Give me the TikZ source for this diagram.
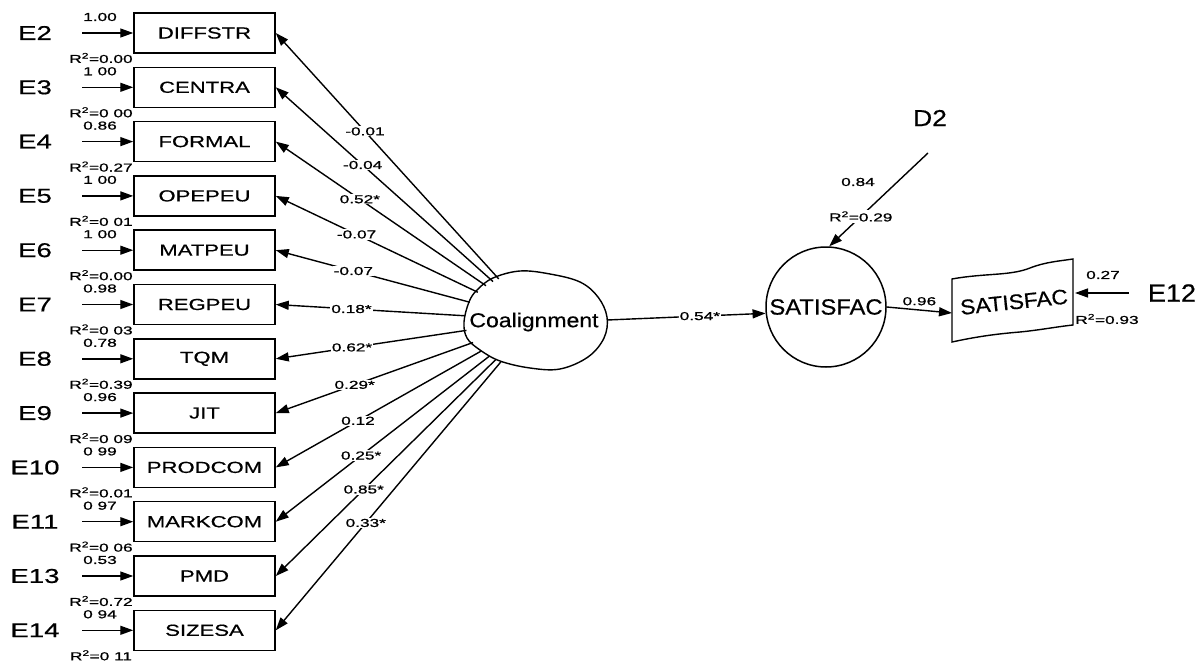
\documentclass[tikz,border=0pt]{standalone}
\usepackage{fontspec}
\setmainfont{Liberation Sans}
\newfontfamily\lfont[FakeStretch=1.38,FakeBold=0.6]{Liberation Sans}
\newfontfamily\nfont[FakeStretch=1.5,FakeBold=1]{Liberation Sans}
\newfontfamily\rfont[FakeStretch=1.08,FakeBold=0.6]{Liberation Sans}
\newfontfamily\cfont[FakeStretch=1.15,FakeBold=0.6]{Liberation Sans}
\usetikzlibrary{arrows.meta,calc,shapes.geometric}
\tikzset{
  obsbox/.style={draw, line width=1.5pt, minimum width=141pt, minimum height=40pt, inner sep=0pt, font=\lfont\fontsize{16}{16}\selectfont},
  elab/.style={inner sep=0pt, font=\lfont\fontsize{20}{20}\selectfont},
  num/.style={inner sep=1pt, font=\nfont\fontsize{11.5}{11.5}\selectfont},
  onl/.style={num, fill=white},
  arr/.style={line width=1.4pt, -{Triangle[length=13pt,width=9pt]}},
  ln/.style={line width=1.4pt}
}
\newcommand{\semrow}[7]{%
  \node[obsbox] (b#1) at (204.5,#2) {#3};
  \node[elab] (e#1) at (35,#2) {#4};
  \draw[arr] ($(e#1.center)+(47,0)$) -- (b#1.west);
  \node[num] (c#1) at (100,#2-16) {#5};
  \node[num] (r#1) at (101,#2+25) {R\textsuperscript{2}=#6};
  \draw[arr] (coal) -- (b#1.east) node[onl,pos=0.6] (p#1) {#7};
}
\begin{document}
\begin{tikzpicture}[x=1pt,y=-1pt]
\useasboundingbox (0,0) rectangle (1203,666);
% Coalignment blob
\node[ellipse, minimum width=142pt, minimum height=96pt, inner sep=0pt] (coal) at (536,320) {};
\node[inner sep=0pt, font=\cfont\fontsize{20}{20}\selectfont] (coaltxt) at (534,322) {Coalignment};
\draw[ln] plot[smooth cycle, tension=0.6] coordinates {(464,322) (469,302) (477,290) (493,278) (520,271) (550,274) (580,282) (598,297) (607,317) (604,338) (588,357) (560,369) (530,368) (500,361) (480,350) (467,338)};
% rows
\semrow{0}{33}{DIFFSTR}{E2}{1.00}{0.00}{-0.01}
\semrow{1}{87.3}{CENTRA}{E3}{1 00}{0 00}{-0.04}
\semrow{2}{141.6}{FORMAL}{E4}{0.86}{0.27}{0.52*}
\semrow{3}{195.9}{OPEPEU}{E5}{1 00}{0 01}{-0.07}
\semrow{4}{250.2}{MATPEU}{E6}{1 00}{0.00}{-0.07}
\semrow{5}{304.5}{REGPEU}{E7}{0.98}{0 03}{0.18*}
\semrow{6}{358.8}{TQM}{E8}{0.78}{0.39}{0.62*}
\semrow{7}{413.1}{JIT}{E9}{0.96}{0 09}{0.29*}
\semrow{8}{467.4}{PRODCOM}{E10}{0 99}{0.01}{0.12}
\semrow{9}{521.7}{MARKCOM}{E11}{0 97}{0 06}{0.25*}
\semrow{10}{576}{PMD}{E13}{0.53}{0.72}{0.85*}
\semrow{11}{630.3}{SIZESA}{E14}{0 94}{0 11}{0.33*}
% latent SATISFAC
\node[circle, draw, line width=1.5pt, minimum size=120pt, inner sep=0pt,
      font=\rfont\fontsize{22}{22}\selectfont] (sat) at (826,307) {SATISFAC};
\draw[arr] (coal.east) -- (sat.186) node[onl,pos=0.585] (p54) {0.54*};
% D2
\node[inner sep=0pt, font=\cfont\fontsize{23}{23}\selectfont] (d2) at (930,118) {D2};
\coordinate (d2s) at (928,153);
\draw[arr] (d2s) -- (sat.87) node[onl,pos=0.68] (r29) {R\textsuperscript{2}=0.29};
\node[num] (c84) at (858,182) {0.84};
% observed SATISFAC (wavy box)
\draw[ln] (952,342) -- (952,279)
  .. controls (985,273) and (1010,276) .. (1030,268)
  .. controls (1045,262) and (1060,261) .. (1073,259)
  -- (1073,325)
  .. controls (1055,327) and (1040,330) .. (1020,332)
  .. controls (995,334) and (975,337) .. (952,342)
  -- cycle;
\node[inner sep=0pt, rotate=6, font=\rfont\fontsize{21}{21}\selectfont] (sbox) at (1014,302) {SATISFAC};
\coordinate (sbl) at (952,313);
\coordinate (sbr) at (1075,293);
\draw[arr] (sat.east) -- (sbl) node[num,pos=0.5,above=3pt] (c96) {0.96};
\node[inner sep=0pt, font=\rfont\fontsize{25}{25}\selectfont] (e12) at (1172,293) {E12};
\draw[arr] ($(e12.west)+(-19,0)$) -- (sbr);
\node[num] (c27) at (1103,275) {0.27};
\node[num] (r93) at (1107,319) {R\textsuperscript{2}=0.93};
\end{tikzpicture}
\end{document}
